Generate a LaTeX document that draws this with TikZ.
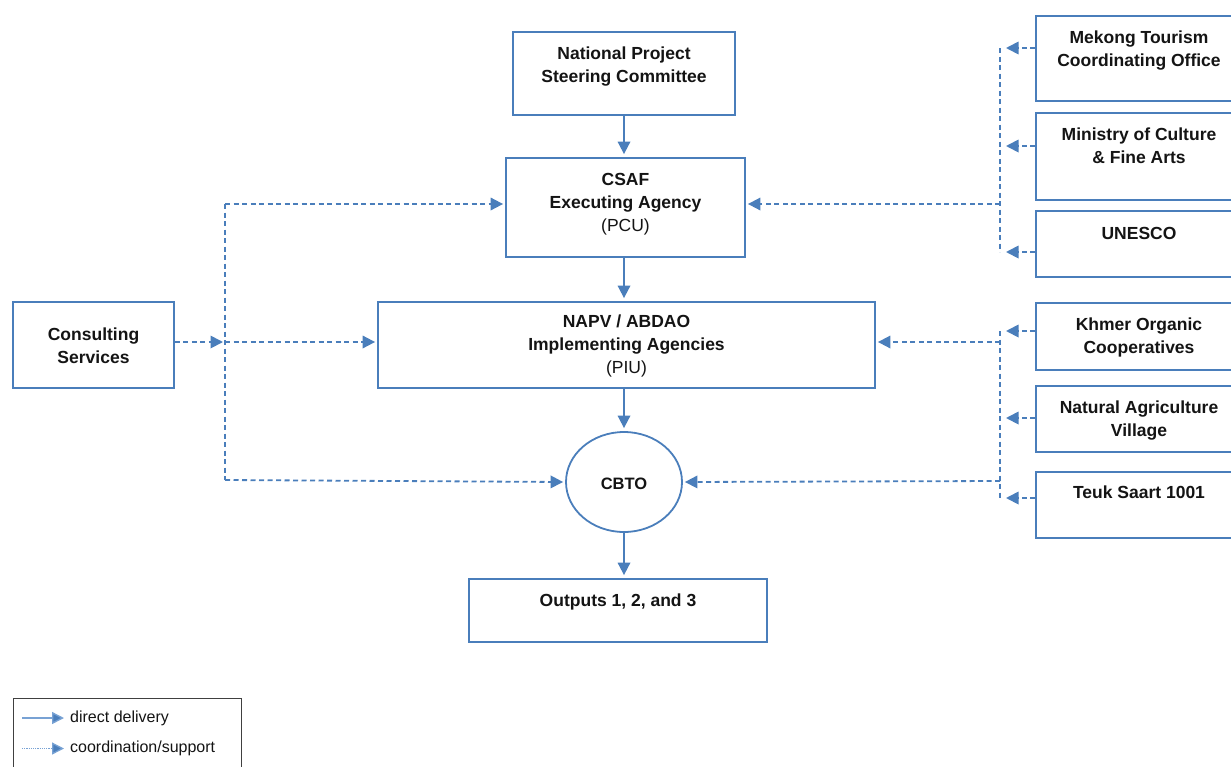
\documentclass[tikz,border=0pt]{standalone}
\usepackage{fontspec}
\setmainfont{Liberation Sans}
\usetikzlibrary{arrows.meta,shapes.geometric}
\definecolor{blu}{RGB}{74,126,187}
\definecolor{lblu}{RGB}{120,162,212}
\definecolor{txt}{RGB}{20,20,20}
\tikzset{
  box/.style={draw=blu, line width=1.8pt, inner sep=0pt, fill=white},
  lbl/.style={font=\bfseries\fontsize{17.5}{23}\selectfont, align=center, text=txt, inner sep=0pt},
  solidarr/.style={draw=blu, line width=1.8pt, shorten >=3pt, -{Triangle[length=12.5pt,width=12.5pt]}},
  dasharr/.style={draw=blu, line width=1.8pt, shorten >=2pt, dash pattern=on 5pt off 3.5pt, -{Triangle[length=12.5pt,width=12.5pt]}},
  dashln/.style={draw=blu, line width=1.8pt, dash pattern=on 5pt off 3.5pt},
  legtxt/.style={font=\fontsize{16}{19}\selectfont, text=txt, inner sep=0pt, anchor=west},
}
\begin{document}
\begin{tikzpicture}[x=1pt,y=-1pt]
\useasboundingbox (0,0) rectangle (1231,766);
\clip (0,0) rectangle (1231,766);

% main column
\node[box, minimum width=222pt, minimum height=83pt] (npsc) at (624,73.5) {};
\node[lbl, anchor=north] (npsct) at ([yshift=-16pt]npsc.north) {National Project\\Steering Committee};

\node[box, minimum width=239pt, minimum height=99pt] (csaf) at (625.5,207.5) {};
\node[lbl, anchor=north] (csaft) at ([yshift=-16pt]csaf.north) {CSAF\\Executing Agency\\\mdseries (PCU)};

\node[box, minimum width=497pt, minimum height=86pt] (napv) at (626.5,345) {};
\node[lbl] (napvt) at ([yshift=-1pt]napv.center) {NAPV / ABDAO\\Implementing Agencies\\\mdseries (PIU)};

\node[box, minimum width=161pt, minimum height=86pt] (cons) at (93.5,345) {};
\node[lbl] (const) at ([yshift=-1pt]cons.center) {Consulting\\Services};

\node[box, ellipse, minimum width=116pt, minimum height=100pt] (cbto) at (624,482) {};
\node[font=\bfseries\fontsize{16.5}{20}\selectfont, text=txt, inner sep=0pt] (cbtot) at ([yshift=-1.5pt]cbto.center) {CBTO};

\node[box, minimum width=298pt, minimum height=63pt] (outp) at (618,610.5) {};
\node[lbl, anchor=north] (outpt) at ([yshift=-16pt]outp.north) {Outputs 1, 2, and 3};

% right boxes
\node[box, minimum width=206pt, minimum height=85pt] (mek) at (1139,58.5) {};
\node[lbl, anchor=north] (mekt) at ([yshift=-15.5pt]mek.north) {Mekong Tourism\\Coordinating Office};
\node[box, minimum width=206pt, minimum height=87pt] (min) at (1139,156.5) {};
\node[lbl, anchor=north] (mint) at ([yshift=-15.5pt]min.north) {Ministry of Culture\\\& Fine Arts};
\node[box, minimum width=206pt, minimum height=66pt] (une) at (1139,244) {};
\node[lbl, anchor=north] (unet) at ([yshift=-17pt]une.north) {UNESCO};
\node[box, minimum width=206pt, minimum height=67pt] (khm) at (1139,336.5) {};
\node[lbl, anchor=north] (khmt) at ([yshift=-15.5pt]khm.north) {Khmer Organic\\Cooperatives};
\node[box, minimum width=206pt, minimum height=66pt] (nat) at (1139,419) {};
\node[lbl, anchor=north] (natt) at ([yshift=-15.5pt]nat.north) {Natural Agriculture\\Village};
\node[box, minimum width=206pt, minimum height=66pt] (teu) at (1139,505) {};
\node[lbl, anchor=north] (teut) at ([yshift=-14.5pt]teu.north) {Teuk Saart 1001};

% direct delivery
\draw[solidarr] (npsc.south) -- (csaf.north -| npsc.south);
\draw[solidarr] (csaf.south -| npsc.south) -- (napv.north -| npsc.south);
\draw[solidarr] (napv.south -| npsc.south) -- (cbto.north);
\draw[solidarr] (cbto.south) -- (outp.north -| cbto.south);

% left coordination bus
\coordinate (jt) at (225,204);
\coordinate (jm) at (225,342);
\coordinate (jb) at (225,480);
\draw[dasharr] (cons.east |- jm) -- (jm);
\draw[dasharr] (jm) -- (jm -| napv.west);
\draw[dashln] (jt) -- (jb);
\draw[dasharr] (jt) -- (jt -| csaf.west);
\draw[dasharr] (jb) -- (cbto.west);

% right upper bus
\coordinate (ru1) at (1000,48);
\coordinate (ru2) at (1000,146);
\coordinate (ru3) at (1000,252);
\coordinate (ruc) at (1000,204);
\draw[dashln] (ru1) -- (ru3);
\draw[dasharr] (ru1 -| mek.west) -- ([xshift=4pt]ru1);
\draw[dasharr] (ru2 -| min.west) -- ([xshift=4pt]ru2);
\draw[dasharr] (ru3 -| une.west) -- ([xshift=4pt]ru3);
\draw[dasharr] (ruc) -- (ruc -| csaf.east);

% right lower bus
\coordinate (rl1) at (1000,331);
\coordinate (rl2) at (1000,418);
\coordinate (rl3) at (1000,498);
\coordinate (rla) at (1000,342);
\coordinate (rlb) at (1000,481);
\draw[dashln] (rl1) -- (rl3);
\draw[dasharr] (rl1 -| khm.west) -- ([xshift=4pt]rl1);
\draw[dasharr] (rl2 -| nat.west) -- ([xshift=4pt]rl2);
\draw[dasharr] (rl3 -| teu.west) -- ([xshift=4pt]rl3);
\draw[dasharr] (rla) -- (rla -| napv.east);
\draw[dasharr] (rlb) -- (cbto.east);

% legend
\node[draw=black!75, line width=0.8pt, minimum width=228pt, minimum height=90pt, anchor=north west, inner sep=0pt] (leg) at (13,698) {};
\node[legtxt] (lg1) at (70,718) {direct delivery};
\node[legtxt] (lg2) at (70,748.5) {coordination/support};
\draw[draw=lblu, line width=1.4pt, -{Triangle[length=12pt,width=12pt,fill=blu]}] ([xshift=-48pt]lg1.west) -- ([xshift=-6pt]lg1.west);
\draw[draw=lblu, line width=1.3pt, dash pattern=on 1.2pt off 1pt, -{Triangle[length=12pt,width=12pt,fill=blu]}] ([xshift=-48pt]lg2.west) -- ([xshift=-6pt]lg2.west);
\end{tikzpicture}
\end{document}
